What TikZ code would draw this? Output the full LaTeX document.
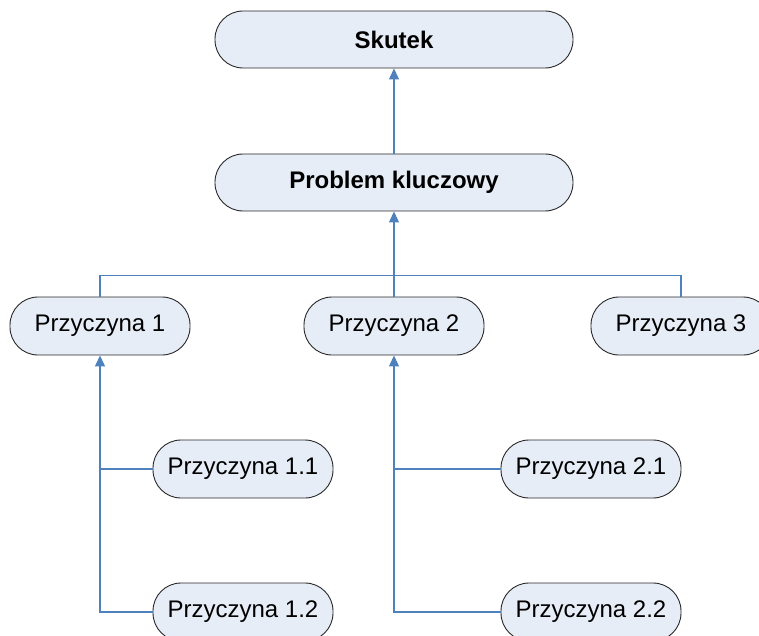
\documentclass[tikz,border=0pt]{standalone}
\usepackage{fontspec}
\setmainfont{Liberation Sans}
\usetikzlibrary{arrows.meta}
\definecolor{boxfill}{RGB}{231,237,247}
\definecolor{boxline}{RGB}{40,40,40}
\definecolor{conncol}{RGB}{79,129,189}
\tikzset{
  bigbox/.style={draw=boxline, fill=boxfill, line width=0.9pt, rounded corners=28pt,
    minimum width=358pt, minimum height=57pt, inner sep=0pt,
    font=\fontsize{24}{28}\selectfont\bfseries},
  causebox/.style={draw=boxline, fill=boxfill, line width=0.9pt, rounded corners=28pt,
    minimum width=180pt, minimum height=58pt, inner sep=0pt,
    font=\fontsize{24}{28}\selectfont},
  conn/.style={draw=conncol, line width=1.1pt},
  arr/.style={conn, -{Triangle[width=10pt,length=11pt]}}
}
\begin{document}
\begin{tikzpicture}[x=1pt,y=-1pt]
\useasboundingbox (0,0) rectangle (759,636);
\clip (0,0) rectangle (759,636);
\node[bigbox] (sk) at (394,39.5) {Skutek};
\node[bigbox] (pk) at (394,182.5) {Problem kluczowy};
\node[causebox] (c1) at (100,326) {Przyczyna 1};
\node[causebox] (c2) at (394,326) {Przyczyna 2};
\node[causebox] (c3) at (681,326) {Przyczyna 3};
\node[causebox] (c11) at (243,469) {Przyczyna 1.1};
\node[causebox] (c12) at (243,612) {Przyczyna 1.2};
\node[causebox] (c21) at (591,469) {Przyczyna 2.1};
\node[causebox] (c22) at (591,612) {Przyczyna 2.2};
\coordinate (bus) at (394,275.5);
% top arrows
\draw[arr] (pk.north) -- (sk.south);
\draw[arr] (c2.north) -- (pk.south);
\draw[conn] (c1.north) -- (c1.north |- bus) -- (c3.north |- bus) -- (c3.north);
% sub-causes
\draw[arr] (c12.west) -| (c1.south);
\draw[conn] (c11.west) -- (c11.west -| c1.south);
\draw[arr] (c22.west) -| (c2.south);
\draw[conn] (c21.west) -- (c21.west -| c2.south);
\end{tikzpicture}
\end{document}
